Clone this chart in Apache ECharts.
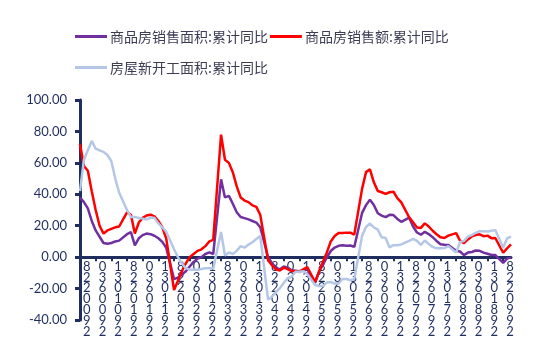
<!DOCTYPE html>
<html>
<head>
<meta charset="utf-8">
<script src="https://cdn.jsdelivr.net/npm/echarts@6/dist/echarts.min.js"></script>
<style>
html,body{margin:0;padding:0;background:#fff;}
#chart{width:545px;height:355px;}
</style>
</head>
<body>
<div id="chart"></div>
<script>
// Series names
var seriesNames = ['商品房销售面积:累计同比', '商品房销售额:累计同比', '房屋新开工面积:累计同比'];

// Years covered (each row = Feb..Dec cumulative values; January has no release)
var years = [2010, 2011, 2012, 2013, 2014, 2015, 2016, 2017, 2018, 2019];

// 商品房销售面积:累计同比 (%)
var areaYoY = [
  [38, 35, 31, 23, 17, 13, 9, 8.5, 9, 10, 10.5],
  [14.6, 15.9, 7.5, 12, 14, 15, 14.6, 13.6, 12, 9.7, 6],
  [-14, -13, -11, -9, -6, -3, -1, 0, 2, 3, 2],
  [49.5, 38, 39, 34, 28.6, 25.5, 24.8, 24, 23, 22, 19],
  [-0.1, -3.8, -6.7, -7.8, -6.0, -6.7, -8.3, -8.6, -8.9, -8.2, -7.6],
  [-16.3, -9.2, -4.8, -0.2, 3.9, 6.1, 7.2, 7.5, 7.2, 7.4, 6.5],
  [28.2, 33.1, 36.5, 33.2, 27.9, 26.4, 25.5, 26.9, 26.8, 24.3, 22.5],
  [25.1, 19.5, 15.7, 14.3, 16.1, 14.7, 12.7, 10.3, 8.2, 7.9, 7.7],
  [4.1, 3.6, 1.3, 2.9, 3.3, 4.2, 4.0, 2.9, 2.2, 1.4, 1.3],
  [-3.6, -0.9, -0.3]
];

// 商品房销售额:累计同比 (%)
var amountYoY = [
  [72, 58, 55, 42, 30, 20, 15, 17, 18, 19, 19.5],
  [28.5, 27, 15, 22, 25, 26.5, 27, 26, 23, 19, 12],
  [-20.9, -15, -9, -4, 0, 2, 4, 5, 7, 10, 11],
  [78, 62, 60, 54, 45, 38, 36, 35, 33, 32, 27],
  [-2, -5.2, -7.8, -8.5, -6.7, -7.6, -8.9, -8.9, -9.5, -7.8, -6.3],
  [-15.8, -9.3, -3.1, 3.0, 10.0, 13.4, 15.3, 15.3, 15.6, 15.6, 14.4],
  [43.6, 54.1, 55.9, 47.6, 42.1, 41.3, 40.3, 41.3, 41.6, 37.5, 34.8],
  [25.4, 22.2, 18.9, 18.6, 21.5, 19.5, 16.8, 14.6, 12.6, 12.2, 13.7],
  [15.3, 10.4, 8.9, 11.3, 13.2, 14.1, 14.5, 13.3, 13.7, 12.1, 12.2],
  [2.8, 5.6, 8.1]
];

// 房屋新开工面积:累计同比 (%)
var startsYoY = [
  [42, 62, 68, 74, 69, 68, 67, 65, 61, 50, 41],
  [30, 25.5, 25.5, 25, 24.5, 24, 25, 25, 21.5, 19, 16.2],
  [5, 0, -4, -7, -8, -8, -8, -7.5, -7, -7, -7.3],
  [16, 1, 3, 2, 4, 7, 6, 8, 9.5, 11.5, 13.5],
  [-27, -25.2, -22.3, -19.8, -16.4, -13.3, -12.5, -9.3, -9.3, -8.9, -10.7],
  [-17.7, -18.4, -18.4, -16.1, -15.8, -16.8, -16.8, -13.9, -13.9, -14.7, -14.0],
  [13.7, 19.2, 21.4, 18.9, 17.5, 12.6, 12.2, 6.2, 7.6, 7.6, 8.1],
  [10.4, 11.6, 10.3, 7.8, 10.6, 8.4, 6.5, 5.6, 5.6, 5.8, 7.0],
  [2.9, 9.7, 10.3, 13, 14, 15.5, 16.5, 16.4, 16.3, 16.8, 17.2],
  [6.0, 11.9, 13.1]
];

// Tick labels as printed (stacked characters), one every 4 months from 2010-02
var tickLabels = [
  '8220092', '0360092', '1301092',
  '8220192', '0360192', '1301192',
  '8220292', '0360292', '1301292',
  '8220392', '0360392', '1301392',
  '8220492', '0360492', '1301492',
  '8220592', '0360592', '1301592',
  '8220692', '0360692', '1301692',
  '8220792', '0360792', '1301792',
  '8220892', '0360892', '1301892',
  '8220992'
];

var yMin = -40, yMax = 100, yStep = 20;

// Build monthly categories (Jan kept as empty slot, connected over)
var categories = [];
function flatten(rows) {
  var out = [];
  for (var y = 0; y < rows.length; y++) {
    if (y > 0) out.push(null); // January: no release
    for (var m = 0; m < rows[y].length; m++) out.push(rows[y][m]);
  }
  return out;
}
for (var y = 0; y < years.length; y++) {
  var start = (y === 0) ? 2 : 1;
  var n = areaYoY[y].length + (y === 0 ? 0 : 1);
  for (var k = 0; k < n; k++) {
    var mm = start + k;
    categories.push(years[y] + '-' + (mm < 10 ? '0' + mm : mm));
  }
}
var areaData = flatten(areaYoY);
var amountData = flatten(amountYoY);
var startsData = flatten(startsYoY);

var navy = '#1F2D5F';
var gridTop = 100, gridBottom = 35, H = 355;
var plotH = H - gridTop - gridBottom;
// distance from grid bottom up to the zero line
var zeroOffset = plotH * (0 - yMin) / (yMax - yMin);

var chart = echarts.init(document.getElementById('chart'), null, {renderer: 'canvas'});
chart.setOption({
  animation: false,
  backgroundColor: '#ffffff',
  legend: {
    left: 70,
    top: 17,
    width: 385,
    itemWidth: 32,
    itemHeight: 3,
    itemGap: 2,
    icon: 'rect',
    textStyle: {fontFamily: 'Noto Sans CJK SC', fontSize: 14, color: '#3C3C55', lineHeight: 29, padding: [0, 0, 0, -2]},
    data: seriesNames
  },
  grid: {left: 80, right: 34, top: gridTop, bottom: gridBottom, containLabel: false, outerBoundsMode: 'none'},
  xAxis: {
    type: 'category',
    boundaryGap: false,
    data: categories,
    offset: -zeroOffset,
    axisLine: {onZero: false, lineStyle: {color: navy, width: 3}},
    axisTick: {show: true, interval: function (i) { return i % 4 === 0; }, length: 4, lineStyle: {color: navy, width: 2}},
    axisLabel: {
      interval: function (i) { return i % 4 === 0; },
      formatter: function (v) { var i = categories.indexOf(v); var t = tickLabels[Math.round(i / 4)] || ''; return t.split('').join('\n'); },
      fontFamily: 'Lato', fontSize: 13, lineHeight: 10.8, color: navy,
      align: 'left', margin: 4, padding: [0, 0, 0, 3],
      showMinLabel: true, showMaxLabel: true,
      hideOverlap: false
    },
    splitLine: {show: false}
  },
  yAxis: {
    type: 'value',
    min: yMin, max: yMax, interval: yStep,
    axisLine: {show: true, lineStyle: {color: navy, width: 3}},
    axisTick: {show: true, length: 5, lineStyle: {color: navy, width: 3}},
    axisLabel: {formatter: function (v) { return v.toFixed(2); }, fontFamily: 'Lato', fontSize: 13, color: navy, margin: 13},
    splitLine: {show: false}
  },
  series: [
    {name: seriesNames[0], type: 'line', data: areaData, connectNulls: true, showSymbol: false, symbol: 'none',
     lineStyle: {color: '#7030A0', width: 2.5}, itemStyle: {color: '#7030A0'}},
    {name: seriesNames[1], type: 'line', data: amountData, connectNulls: true, showSymbol: false, symbol: 'none',
     lineStyle: {color: '#FF0000', width: 2.5}, itemStyle: {color: '#FF0000'}},
    {name: seriesNames[2], type: 'line', data: startsData, connectNulls: true, showSymbol: false, symbol: 'none',
     lineStyle: {color: '#B4C7E7', width: 2.5}, itemStyle: {color: '#B4C7E7'}}
  ]
});
</script>
</body>
</html>
